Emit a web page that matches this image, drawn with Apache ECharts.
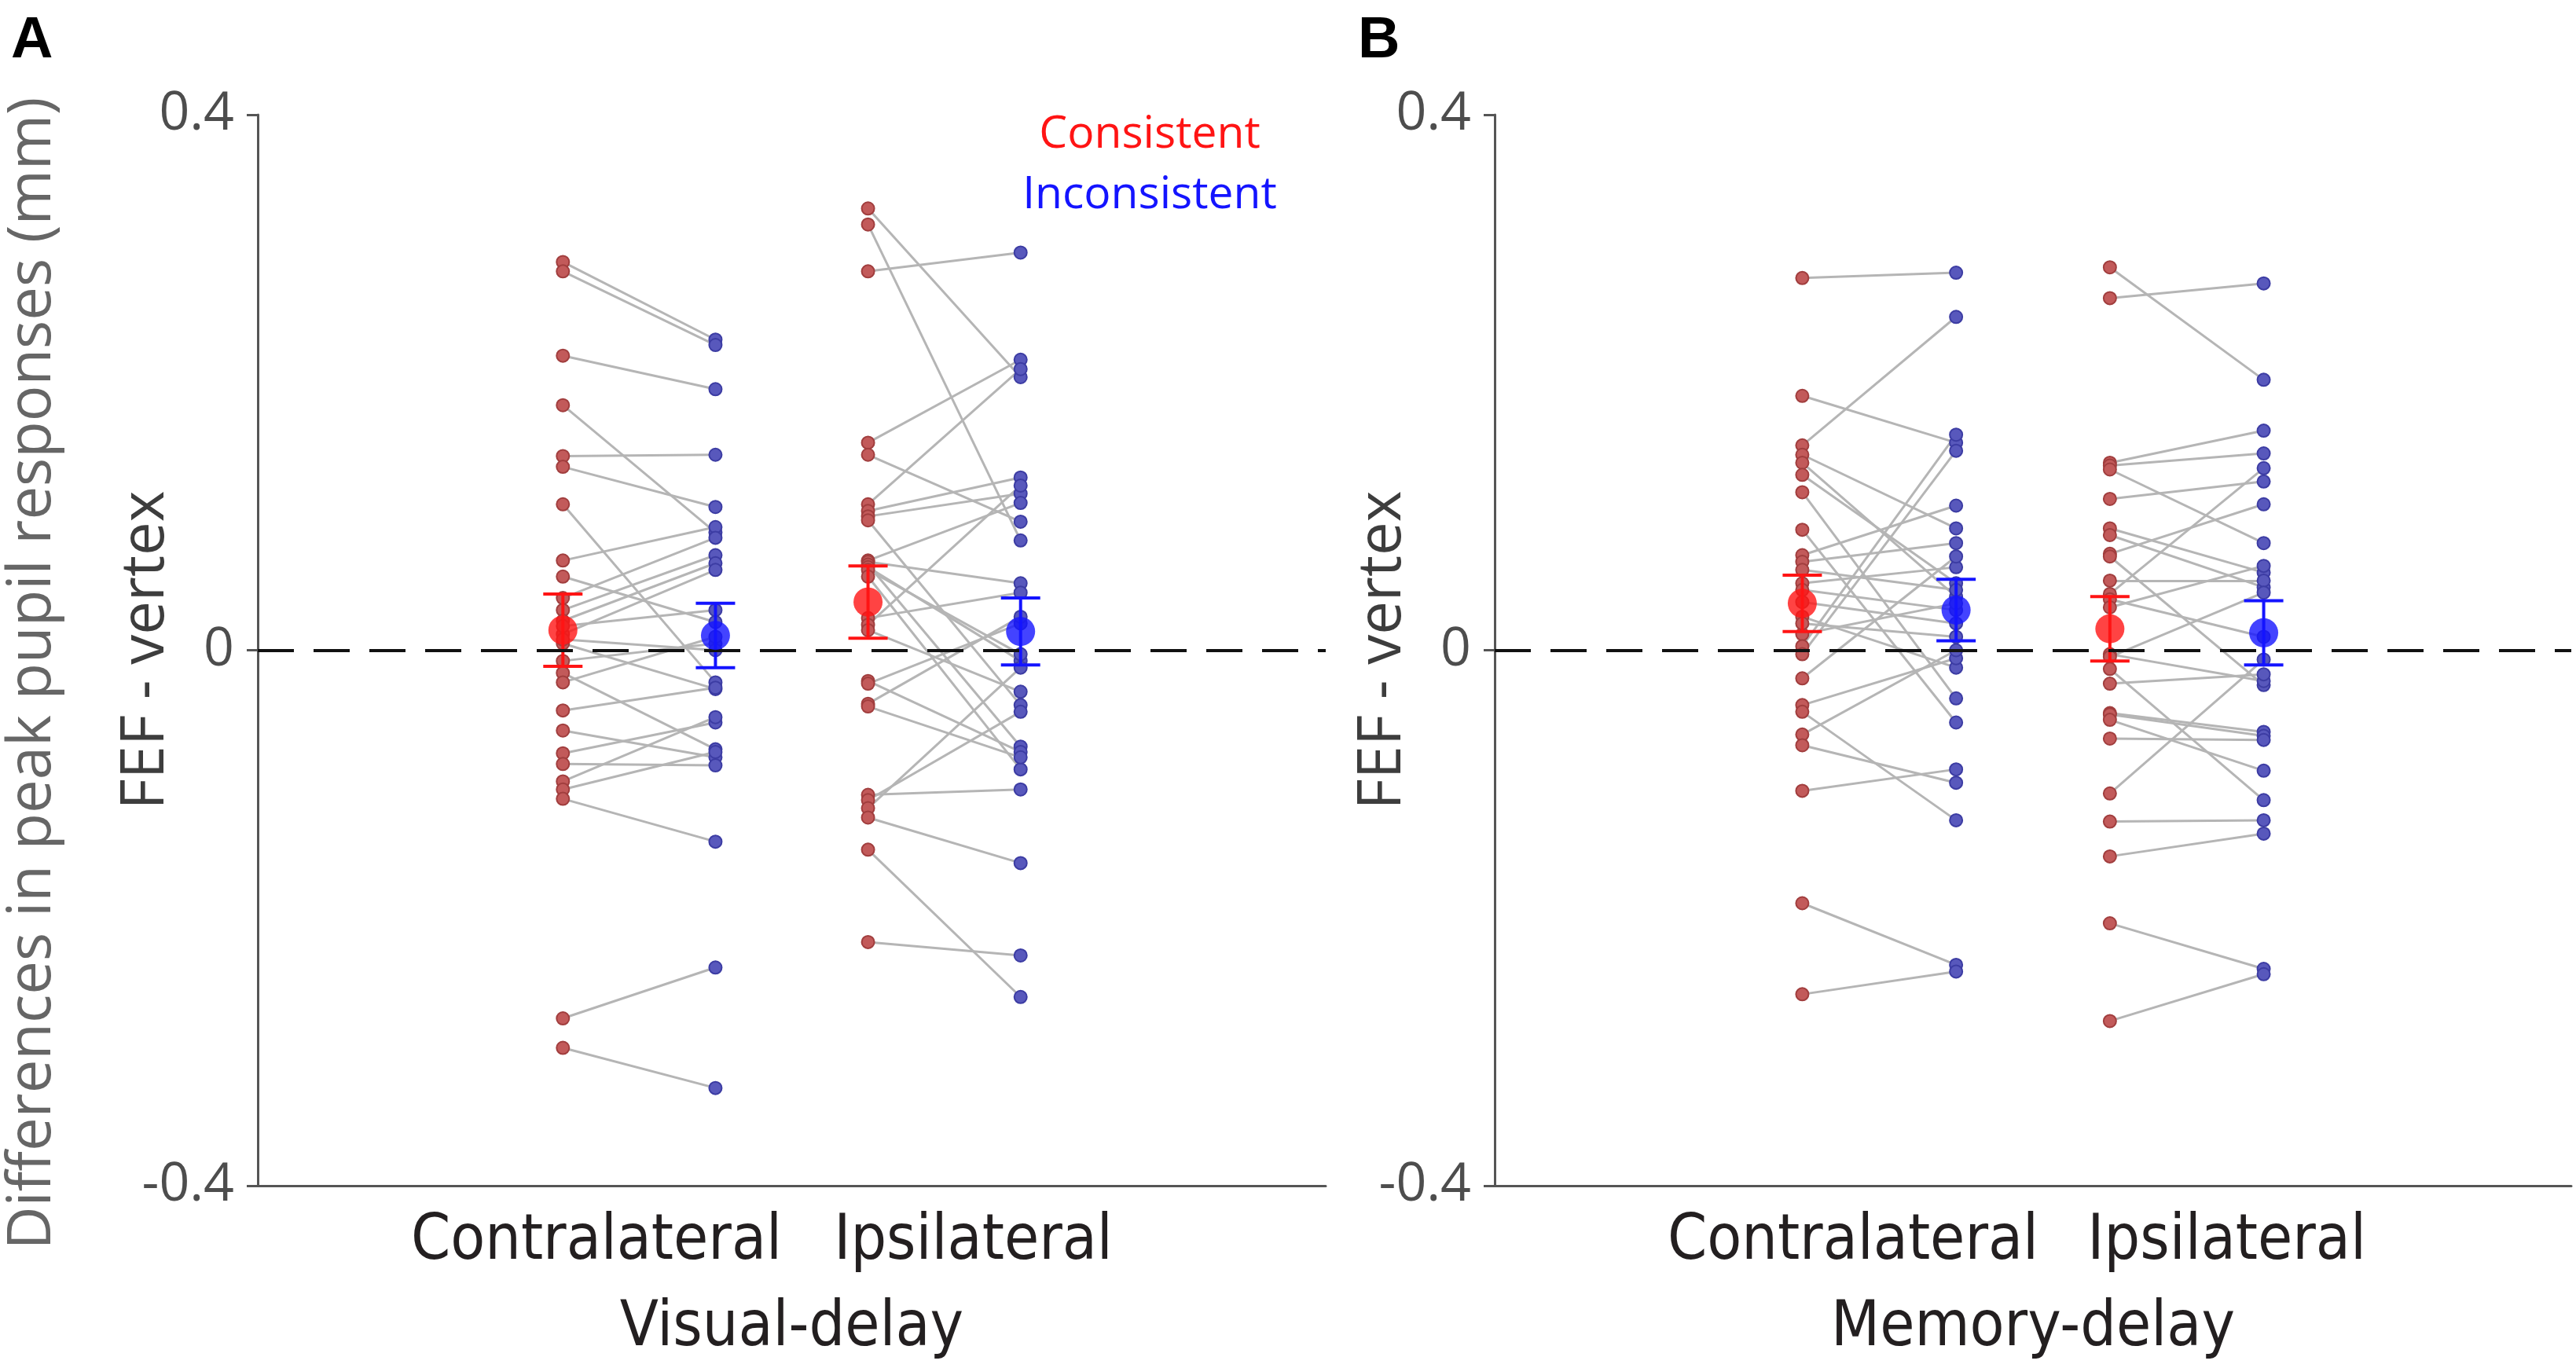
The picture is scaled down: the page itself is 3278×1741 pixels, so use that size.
<!doctype html>
<html>
<head>
<meta charset="utf-8">
<title>FEF - vertex: peak pupil response differences</title>
<script src="https://cdn.jsdelivr.net/npm/echarts@6/dist/echarts.min.js"></script>
<style>
  html, body { margin: 0; padding: 0; background: #fff; }
  #main { width: 3278px; height: 1741px; }
</style>
</head>
<body>
<div id="main"></div>
<script>
// ---- data ----
var yTicks = [-0.4, 0, 0.4];
var sideLabels = ['Contralateral', 'Ipsilateral'];
var taskLabels = ['Visual-delay', 'Memory-delay'];
var conditionLabels = ['Consistent', 'Inconsistent'];
var panelLetters = ['A', 'B'];

// x slots on an axis running 0..7 (contra consistent, contra inconsistent, ipsi consistent, ipsi inconsistent)
var slots = [2, 3, 4, 5];
// where the side labels sit under each panel
var sideLabelSlots = [[2.22, 4.69], [2.33, 4.76]];

// one value per subject, same order in the paired arrays
var visualContraCons = [0.290, 0.283, 0.220, 0.183, 0.145, 0.137, 0.109, 0.067, 0.055, 0.039, 0.030, 0.022, 0.012, 0.005,
  -0.008, -0.017, -0.024, -0.045, -0.060, -0.077, -0.085, -0.098, -0.104, -0.111, -0.275, -0.297, 0.018, 0.008];
var visualContraIncons = [0.232, 0.228, 0.195, 0.088, 0.146, 0.107, -0.024, 0.092, 0.021, 0.084, 0.071, 0.065, 0.060, -0.029,
  0.005, -0.074, 0.010, -0.028, -0.080, -0.054, -0.086, -0.050, -0.076, -0.143, -0.237, -0.327, 0.030, 0.000];
var visualIpsiCons = [0.330, 0.318, 0.283, 0.155, 0.146, 0.109, 0.104, 0.100, 0.097, 0.067, 0.066, 0.064, 0.062, 0.060,
  0.055, 0.024, 0.019, 0.015, -0.023, -0.025, -0.040, -0.042, -0.108, -0.112, -0.118, -0.125, -0.149, -0.218];
var visualIpsiIncons = [0.204, 0.082, 0.297, 0.217, 0.096, 0.210, 0.129, 0.117, -0.041, 0.110, 0.050, -0.072, -0.008, -0.003,
  -0.089, 0.043, 0.123, -0.031, -0.076, 0.020, 0.025, -0.080, -0.104, -0.046, -0.013, -0.159, -0.259, -0.228];

var memoryContraCons = [0.278, 0.190, 0.153, 0.146, 0.140, 0.131, 0.118, 0.090, 0.071, 0.066, 0.060, 0.050, 0.045, 0.036,
  0.025, 0.012, 0.003, -0.003, -0.021, -0.041, -0.046, -0.063, -0.071, -0.105, -0.189, -0.257, 0.020];
var memoryContraIncons = [0.282, 0.155, 0.249, 0.091, 0.040, 0.050, -0.036, -0.054, 0.108, 0.080, 0.045, 0.062, 0.030, 0.020,
  -0.013, 0.035, 0.161, 0.149, 0.070, -0.006, -0.127, 0.000, -0.099, -0.089, -0.235, -0.240, 0.010];
var memoryIpsiCons = [0.286, 0.263, 0.140, 0.138, 0.135, 0.113, 0.091, 0.086, 0.072, 0.070, 0.052, 0.042, 0.038, 0.032,
  -0.003, -0.005, -0.014, -0.025, -0.047, -0.048, -0.052, -0.066, -0.107, -0.128, -0.154, -0.204, -0.277];
var memoryIpsiIncons = [0.202, 0.274, 0.164, 0.147, 0.080, 0.126, 0.058, 0.047, 0.109, -0.026, 0.052, 0.136, 0.010, 0.063,
  -0.023, 0.043, -0.112, -0.018, -0.061, -0.064, -0.090, -0.067, -0.007, -0.127, -0.137, -0.238, -0.242];

// group mean and half error bar, same slot order as above
var visualMeans = [0.015, 0.011, 0.036, 0.014];
var visualErrors = [0.027, 0.024, 0.027, 0.025];
var memoryMeans = [0.035, 0.030, 0.016, 0.013];
var memoryErrors = [0.021, 0.023, 0.024, 0.024];

// ---- styling ----
var consColor = '#ff1414';
var inconsColor = '#1414ff';
var consDot = '#c25a5a';
var inconsDot = '#5858bc';
var pairGray = '#b5b5b5';
var axisGray = '#555555';
var baseFont = 'Open Sans';
var narrowFont = "'Liberation Sans Narrow', 'DejaVu Sans Condensed', 'Open Sans'";

var myChart = echarts.init(document.getElementById('main'), null, { renderer: 'canvas' });

function pairLines(cons, incons, xa, xb) {
    return cons.map(function (v, i) {
        return { coords: [[xa, v], [xb, incons[i]]] };
    });
}

function points(vals, x) {
    return vals.map(function (v) { return [x, v]; });
}

function makePanel(p, contraCons, contraIncons, ipsiCons, ipsiIncons, means, errors) {
    var axis = { xAxisIndex: p, yAxisIndex: p };
    var colors = [consColor, inconsColor, consColor, inconsColor];
    var list = [];

    list.push(Object.assign({
        type: 'lines',
        coordinateSystem: 'cartesian2d',
        silent: true,
        z: 1,
        lineStyle: { color: pairGray, width: 3, opacity: 1 },
        data: pairLines(contraCons, contraIncons, slots[0], slots[1])
            .concat(pairLines(ipsiCons, ipsiIncons, slots[2], slots[3])),
        markLine: {
            silent: true,
            symbol: ['none', 'none'],
            label: { show: false },
            lineStyle: { color: '#111', width: 4, type: [46, 25] },
            data: [{ yAxis: 0 }]
        }
    }, axis));

    list.push(Object.assign({
        type: 'scatter',
        name: conditionLabels[0],
        z: 3,
        symbolSize: 16,
        itemStyle: { color: consDot, borderColor: '#a13e3e', borderWidth: 2, opacity: 1 },
        data: points(contraCons, slots[0]).concat(points(ipsiCons, slots[2]))
    }, axis));

    list.push(Object.assign({
        type: 'scatter',
        name: conditionLabels[1],
        z: 3,
        symbolSize: 16,
        itemStyle: { color: inconsDot, borderColor: '#3c3ca3', borderWidth: 2, opacity: 1 },
        data: points(contraIncons, slots[1]).concat(points(ipsiIncons, slots[3]))
    }, axis));

    list.push(Object.assign({
        type: 'custom',
        z: 4,
        silent: true,
        encode: { x: 0, y: 1 },
        renderItem: function (params, api) {
            var x = api.value(0), m = api.value(1), e = api.value(2);
            var top = api.coord([x, m + e]);
            var bot = api.coord([x, m - e]);
            var w = 25;
            var style = { stroke: api.visual('color'), lineWidth: 4 };
            return {
                type: 'group',
                children: [
                    { type: 'line', shape: { x1: top[0], y1: top[1], x2: bot[0], y2: bot[1] }, style: style },
                    { type: 'line', shape: { x1: top[0] - w, y1: top[1], x2: top[0] + w, y2: top[1] }, style: style },
                    { type: 'line', shape: { x1: bot[0] - w, y1: bot[1], x2: bot[0] + w, y2: bot[1] }, style: style }
                ]
            };
        },
        data: means.map(function (m, i) {
            return { value: [slots[i], m, errors[i]], itemStyle: { color: colors[i] } };
        })
    }, axis));

    list.push(Object.assign({
        type: 'scatter',
        z: 5,
        silent: true,
        symbolSize: 37,
        data: means.map(function (m, i) {
            return { value: [slots[i], m], itemStyle: { color: colors[i] } };
        })
    }, axis));

    return list;
}

function xAxisFor(p) {
    var labelSlots = sideLabelSlots[p];
    return {
        type: 'value',
        gridIndex: p,
        min: 0,
        max: 7,
        name: taskLabels[p],
        nameLocation: 'middle',
        nameGap: 142,
        nameMoveOverlap: false,
        nameTextStyle: { fontFamily: narrowFont, fontSize: 80, color: '#231f20' },
        axisLine: { show: true, onZero: false, lineStyle: { color: axisGray, width: 3 } },
        axisTick: { show: false },
        splitLine: { show: false },
        axisLabel: {
            show: true,
            customValues: labelSlots,
            margin: 32,
            fontFamily: narrowFont,
            fontSize: 80,
            color: '#231f20',
            formatter: function (v) {
                return Math.abs(v - labelSlots[0]) < Math.abs(v - labelSlots[1]) ? sideLabels[0] : sideLabels[1];
            }
        }
    };
}

function yAxisFor(p) {
    return {
        type: 'value',
        gridIndex: p,
        min: yTicks[0],
        max: yTicks[yTicks.length - 1],
        interval: 0.4,
        name: 'FEF - vertex',
        nameLocation: 'middle',
        nameGap: 104,
        nameMoveOverlap: false,
        nameTextStyle: { fontFamily: baseFont, fontSize: 76, color: '#3d3d3d' },
        axisLine: { show: true, onZero: false, lineStyle: { color: axisGray, width: 3 } },
        axisTick: { show: true, length: 14, lineStyle: { color: axisGray, width: 3 } },
        splitLine: { show: false },
        axisLabel: {
            margin: 30,
            fontFamily: baseFont,
            fontSize: 68,
            color: '#4d4d4d',
            formatter: function (v) { return String(Math.round(v * 10) / 10); }
        }
    };
}

var series = makePanel(0, visualContraCons, visualContraIncons, visualIpsiCons, visualIpsiIncons, visualMeans, visualErrors)
    .concat(makePanel(1, memoryContraCons, memoryContraIncons, memoryIpsiCons, memoryIpsiIncons, memoryMeans, memoryErrors));

myChart.setOption({
    backgroundColor: '#ffffff',
    animation: false,
    grid: [
        { left: 328, top: 146, width: 1359, height: 1363 },
        { left: 1902, top: 146, width: 1370, height: 1363 }
    ],
    xAxis: [xAxisFor(0), xAxisFor(1)],
    yAxis: [yAxisFor(0), yAxisFor(1)],
    graphic: [
        { type: 'text', left: 14, top: 16, style: { text: panelLetters[0], font: 'bold 74px "Liberation Sans"', fill: '#000' } },
        { type: 'text', left: 1728, top: 16, style: { text: panelLetters[1], font: 'bold 74px "Liberation Sans"', fill: '#000' } },
        {
            type: 'text', x: 42, y: 857, rotation: Math.PI / 2,
            style: {
                text: 'Differences in peak pupil responses (mm)',
                font: '76px "Open Sans"', fill: '#666666',
                textAlign: 'center', textVerticalAlign: 'middle'
            }
        },
        {
            type: 'text', x: 1463, y: 172,
            style: { text: conditionLabels[0], font: '57px "Open Sans"', fill: consColor, textAlign: 'center', textVerticalAlign: 'middle' }
        },
        {
            type: 'text', x: 1463, y: 249,
            style: { text: conditionLabels[1], font: '57px "Open Sans"', fill: inconsColor, textAlign: 'center', textVerticalAlign: 'middle' }
        }
    ],
    series: series
});
</script>
</body>
</html>
